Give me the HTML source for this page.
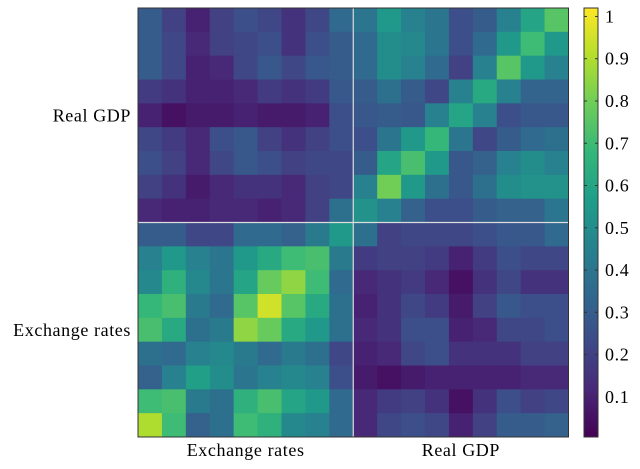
<!DOCTYPE html>
<html><head><meta charset="utf-8"><style>
body{margin:0;background:#fff;}
svg text{font-family:"Liberation Serif",serif;font-size:18px;letter-spacing:0.6px;fill:#000;}
</style></head><body>
<svg id="chart" width="640" height="464" xmlns="http://www.w3.org/2000/svg">
<g id="cells"></g>
<g id="cbar"></g>
<g id="labels"></g>
</svg>
<script>
const groupLabels = ["Exchange rates", "Real GDP"];
const yGroupLabels = ["Real GDP", "Exchange rates"];
const cbarTicks = [0.1,0.2,0.3,0.4,0.5,0.6,0.7,0.8,0.9,1];
const cbarTickLabels = ["0.1","0.2","0.3","0.4","0.5","0.6","0.7","0.8","0.9","1"];
const values = [
[0.3,0.2,0.1,0.2,0.25,0.22,0.15,0.22,0.35,0.4,0.55,0.45,0.4,0.25,0.3,0.45,0.6,0.75],
[0.3,0.22,0.12,0.2,0.22,0.25,0.15,0.25,0.3,0.35,0.5,0.48,0.4,0.25,0.35,0.55,0.7,0.55],
[0.3,0.22,0.1,0.12,0.22,0.28,0.22,0.28,0.3,0.35,0.5,0.45,0.35,0.2,0.45,0.75,0.55,0.45],
[0.18,0.15,0.1,0.1,0.12,0.18,0.15,0.18,0.28,0.3,0.38,0.3,0.22,0.45,0.62,0.45,0.33,0.33],
[0.1,0.05,0.08,0.08,0.1,0.08,0.08,0.1,0.25,0.28,0.3,0.28,0.45,0.6,0.45,0.25,0.28,0.28],
[0.22,0.18,0.12,0.25,0.28,0.2,0.15,0.2,0.25,0.25,0.4,0.55,0.68,0.4,0.22,0.3,0.35,0.38],
[0.25,0.2,0.12,0.22,0.28,0.25,0.2,0.22,0.22,0.3,0.6,0.72,0.55,0.28,0.32,0.45,0.5,0.45],
[0.2,0.15,0.08,0.12,0.15,0.15,0.12,0.2,0.22,0.45,0.8,0.55,0.38,0.28,0.38,0.5,0.52,0.52],
[0.12,0.1,0.1,0.12,0.12,0.1,0.12,0.2,0.38,0.52,0.45,0.32,0.25,0.25,0.3,0.32,0.32,0.4],
[0.3,0.3,0.22,0.22,0.35,0.35,0.32,0.42,0.55,0.38,0.2,0.22,0.22,0.22,0.25,0.28,0.28,0.35],
[0.45,0.55,0.45,0.4,0.55,0.62,0.7,0.72,0.42,0.18,0.2,0.2,0.18,0.1,0.18,0.25,0.22,0.22],
[0.48,0.65,0.48,0.4,0.6,0.78,0.85,0.7,0.35,0.12,0.15,0.18,0.12,0.05,0.15,0.22,0.15,0.15],
[0.68,0.72,0.42,0.35,0.75,0.95,0.75,0.62,0.38,0.1,0.15,0.22,0.18,0.08,0.2,0.28,0.25,0.25],
[0.72,0.62,0.38,0.42,0.85,0.78,0.62,0.55,0.38,0.12,0.15,0.25,0.25,0.1,0.12,0.22,0.22,0.25],
[0.38,0.35,0.45,0.48,0.42,0.35,0.42,0.38,0.22,0.1,0.12,0.22,0.25,0.15,0.15,0.15,0.2,0.2],
[0.32,0.45,0.58,0.5,0.4,0.45,0.48,0.45,0.25,0.08,0.05,0.08,0.1,0.1,0.1,0.1,0.12,0.12],
[0.7,0.72,0.42,0.38,0.65,0.72,0.6,0.55,0.35,0.12,0.18,0.2,0.15,0.05,0.15,0.25,0.2,0.22],
[0.9,0.7,0.32,0.38,0.7,0.65,0.48,0.45,0.35,0.12,0.22,0.25,0.22,0.1,0.2,0.3,0.3,0.32]
];
const vmin = 0.005, vmax = 1.02;
const NS="http://www.w3.org/2000/svg";
const X0=138, X1=568.5, Y0=8, Y1=437;
const n = values.length;
const cw=(X1-X0)/n, ch=(Y1-Y0)/n;
const xPos=i=>X0+i*cw, yPos=j=>Y0+j*ch;
const stops=[[68,1,84],[72,40,120],[62,74,137],[49,104,142],[38,130,142],[31,158,137],[53,183,121],[109,205,89],[180,222,44],[253,231,37]];
function viridis(v){let t=(v-vmin)/(vmax-vmin);t=Math.max(0,Math.min(1,t))*(stops.length-1);const i=Math.min(Math.floor(t),stops.length-2),f=t-i;const c=stops[i].map((a,k)=>Math.round(a+(stops[i+1][k]-a)*f));return `rgb(${c[0]},${c[1]},${c[2]})`;}
function mk(tag,attrs,parent){const e=document.createElementNS(NS,tag);for(const k in attrs)e.setAttribute(k,attrs[k]);parent.appendChild(e);return e;}
const cells=document.getElementById('cells');
values.forEach((row,j)=>row.forEach((v,i)=>{
  const r=mk('rect',{x:xPos(i),y:yPos(j),width:cw+0.5,height:ch+0.5,fill:viridis(v)},cells);
  
  
}));
const half=n/2;
let l1=mk('line',{x1:xPos(half),x2:xPos(half),y1:Y0,y2:Y1,stroke:'#ddd','stroke-width':1.2},cells);


let l2=mk('line',{x1:X0,x2:X1,y1:yPos(half),y2:yPos(half),stroke:'#ddd','stroke-width':1.2},cells);


let fr=mk('rect',{x:X0,y:Y0,width:X1-X0,height:Y1-Y0,fill:'none',stroke:'#333','stroke-width':1},cells);


const lab=document.getElementById('labels');
groupLabels.forEach((t,k)=>{
  const e=mk('text',{x:xPos(k*half+half/2),y:456,'text-anchor':'middle'},lab);e.textContent=t;
  
  
});
yGroupLabels.forEach((t,k)=>{
  const e=mk('text',{x:131,y:yPos(k*half+half/2)+6,'text-anchor':'end'},lab);e.textContent=t;
  
  
});
const cb=document.getElementById('cbar');
const CX=584, CW=14;
const cy=v=>Y1-(v-vmin)/(vmax-vmin)*(Y1-Y0);
for(let k=0;k<200;k++){const v0=vmin+(vmax-vmin)*k/200;const v1=vmin+(vmax-vmin)*(k+1)/200;
  const r=mk('rect',{x:CX,y:cy(v1),width:CW,height:cy(v0)-cy(v1)+0.5,fill:viridis((v0+v1)/2)},cb);
  
  }
let cf=mk('rect',{x:CX,y:Y0,width:CW,height:Y1-Y0,fill:'none',stroke:'#333','stroke-width':1},cb);


cbarTicks.forEach((v,k)=>{
  mk('line',{x1:CX,x2:CX+3,y1:cy(v),y2:cy(v),stroke:'#333'},cb);
  mk('line',{x1:CX+CW-3,x2:CX+CW,y1:cy(v),y2:cy(v),stroke:'#333'},cb);
  const t=mk('text',{x:605,y:cy(v)+6},cb);t.textContent=cbarTickLabels[k];
  
  
});
</script>
</body></html>
